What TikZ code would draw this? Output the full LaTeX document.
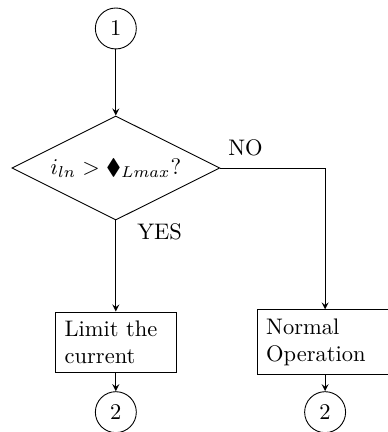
\documentclass[tikz,border=0pt]{standalone}
\usepackage{amssymb}
\usetikzlibrary{shapes.geometric}
\begin{document}
\begin{tikzpicture}[>=stealth,
    conn/.style={circle, draw, minimum size=0.64cm, inner sep=0pt},
    decision/.style={diamond, draw, aspect=2, minimum width=3.25cm, minimum height=1.625cm, inner sep=0pt},
    block/.style={rectangle, draw, align=left, inner sep=4pt}
]
\useasboundingbox (0,0) rectangle (6.047,-6.75);

\node[conn] (start) at (1.81,-0.445) {1};
\node[decision] (test) at (1.81,-2.625) {$i_{ln} > \blacklozenge_{Lmax}$?};
\node[block, text width=1.6cm] (limit) at (1.81,-5.35) {Limit the current};
\node[block, text width=1.84cm] (normal) at (5.08,-5.35) {Normal Operation};
\node[conn] (endA) at (1.81,-6.44) {2};
\node[conn] (endB) at (5.08,-6.44) {2};

\draw[->] (start) -- (test);
\draw[->] (test) -- (limit) node[pos=0.12, right=6pt] {YES};
\draw[->] (test.east) -| (normal.north) node[pos=0.12, above=2pt] {NO};
\draw[->] (limit) -- (endA);
\draw[->] (normal) -- (endB);
\end{tikzpicture}
\end{document}
